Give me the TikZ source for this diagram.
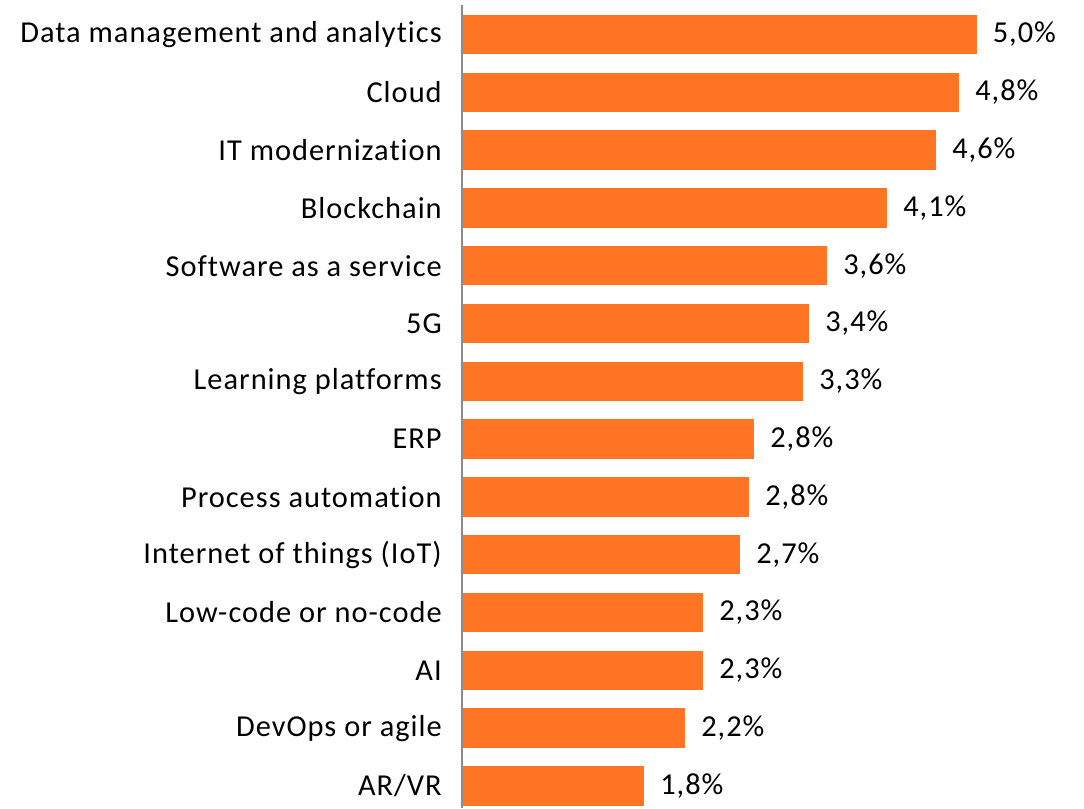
\documentclass[tikz,border=0pt]{standalone}
\usepackage{fontspec}
\setmainfont{Carlito}[LetterSpace=3.3,Ligatures=NoCommon]
\definecolor{barorange}{RGB}{255,117,36}
\definecolor{axisgray}{RGB}{140,140,140}
\begin{document}
\begin{tikzpicture}[x=0.75pt,y=-0.75pt,
  bar/.style={fill=barorange,draw=none},
  cat/.style={anchor=east,inner sep=0pt,font=\fontsize{22.8}{27}\selectfont},
  val/.style={anchor=west,inner sep=0pt,font=\fontsize{22.8}{27}\selectfont}]
\useasboundingbox (0,0) rectangle (1084,808);
\foreach \i/\name/\xend/\v in {
  0/{Data management and analytics}/976.5/{5,0\%},
  1/{Cloud}/959/{4,8\%},
  2/{IT modernization}/936/{4,6\%},
  3/{Blockchain}/887/{4,1\%},
  4/{Software as a service}/827/{3,6\%},
  5/{5G}/809/{3,4\%},
  6/{Learning platforms}/803/{3,3\%},
  7/{ERP}/754/{2,8\%},
  8/{Process automation}/749/{2,8\%},
  9/{Internet of things (IoT)}/740/{2,7\%},
  10/{Low-code or no-code}/703/{2,3\%},
  11/{AI}/703/{2,3\%},
  12/{DevOps or agile}/685/{2,2\%},
  13/{AR/VR}/644/{1,8\%}}{
  \pgfmathsetmacro{\yc}{34.5+57.8*\i}
  \fill[bar] (462,\yc-19.75) rectangle (\xend,\yc+19.75);
  \node[cat] (c\i) at (442,\yc) {\name};
  \node[val] (v\i) at (\xend+16,\yc) {\v};
}
\draw[axisgray,line width=1.5pt] (462,5) -- (462,808);
\end{tikzpicture}
\end{document}
